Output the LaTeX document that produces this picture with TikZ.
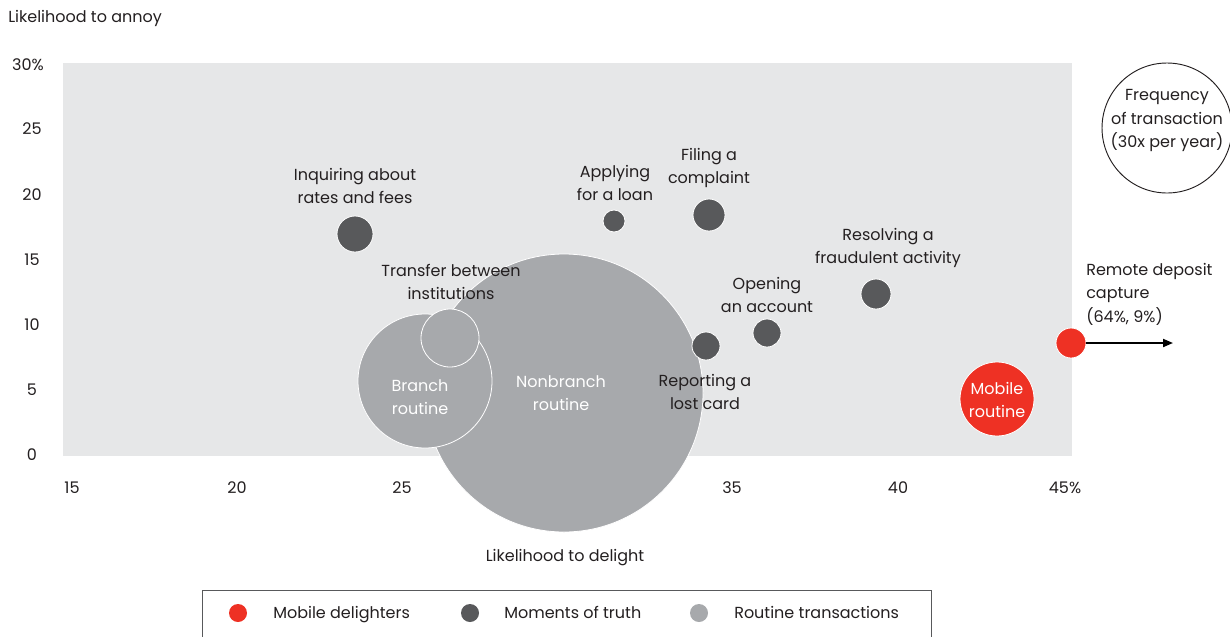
\documentclass[tikz,border=0pt]{standalone}
\usepackage{fontspec}
\setmainfont{Poppins}
\usetikzlibrary{arrows.meta}
\definecolor{bgray}{HTML}{E6E7E8}
\definecolor{dgray}{HTML}{58595B}
\definecolor{lgray}{HTML}{A7A9AC}
\definecolor{bred}{HTML}{EE3124}
\definecolor{ink}{HTML}{231F20}

\begin{document}
\begin{tikzpicture}[x=0.75pt, y=-0.75pt, font=\fontsize{12}{17.6}\selectfont, text=ink,
  bubble/.style={circle, draw=white, line width=0.6pt, inner sep=0pt},
  truth/.style={bubble, fill=dgray},
  routine/.style={bubble, fill=lgray},
  delight/.style={bubble, fill=bred},
  lbl/.style={align=center, inner sep=0pt},
  inlbl/.style={lbl, text=white},
  keydot/.style={circle, minimum size=13.5pt, inner sep=0pt},
  keytext/.style={anchor=base west, inner sep=0pt}]
\useasboundingbox (0,0) rectangle (1230,636);

% Plot background
\fill[bgray] (63,63) rectangle (1072,456);

% Axis labels
\node[anchor=west, inner sep=0pt] (ytitle) at (8,18) {Likelihood to annoy};
\node[lbl] (y30) at (28,65) {30\%};
\foreach \v/\y in {25/129, 20/195, 15/260, 10/325, 5/390, 0/455}
  \node[lbl] (y\v) at (32,\y) {\v};
\foreach \v/\x in {15/72, 20/237, 25/402, 35/732, 40/898}
  \node[lbl] (x\v) at (\x,488) {\v};
\node[lbl] (x45) at (1065,488) {45\%};
\node[lbl] (xtitle) at (565,558) {Likelihood to delight};

% Routine transactions
\node[routine, minimum size=208.5pt] (nonbranch) at (564,393) {};
\node[routine, minimum size=100.5pt] (branch) at (425,381) {};
\node[routine, minimum size=43.5pt] (transfer) at (450,338) {};
\node[inlbl] (nonbranchlbl) at (561,393) {Nonbranch\\routine};
\node[inlbl] (branchlbl) at (420,397) {Branch\\routine};
\node[lbl] (transferlbl) at (451,282) {Transfer between\\institutions};

% Moments of truth
\node[truth, minimum size=27pt] (inquire) at (355,234) {};
\node[truth, minimum size=16.5pt] (loan) at (614,221) {};
\node[truth, minimum size=24pt] (complaint) at (709,215) {};
\node[truth, minimum size=22.5pt] (fraud) at (876,294) {};
\node[truth, minimum size=21pt] (account) at (767,333) {};
\node[truth, minimum size=21pt] (lostcard) at (706,346) {};
\node[lbl] (inquirelbl) at (355,186) {Inquiring about\\rates and fees};
\node[lbl] (loanlbl) at (615,183) {Applying\\for a loan};
\node[lbl] (complaintlbl) at (709,168) {Filing a\\complaint};
\node[lbl] (fraudlbl) at (888,248) {Resolving a\\fraudulent activity};
\node[lbl] (accountlbl) at (767,295) {Opening\\an account};
\node[lbl] (lostcardlbl) at (705,392) {Reporting a\\lost card};

% Mobile delighters
\node[delight, minimum size=55.5pt] (mobile) at (997,399) {};
\node[inlbl] (mobilelbl) at (997,400) {Mobile\\routine};
\node[delight, minimum size=22.5pt] (deposit) at (1071,343) {};
\node[lbl, anchor=west, align=left] (depositlbl) at (1086,294) {Remote deposit\\capture\\(64\%, 9\%)};
\coordinate (depositend) at (1173,343);
\draw[line width=1.4pt, -{Triangle[length=7.5pt, width=6pt]}] (deposit.east) -- (depositend);

% Bubble size key
\node[circle, draw=ink, line width=0.7pt, minimum size=97.5pt] (freq) at (1167,128) {};
\node[lbl] (freqlbl) at (1167,120.5) {Frequency\\of transaction\\(30x per year)};

% Legend
\draw[dgray, line width=0.7pt] (202,650) -- (202,590) -- (931,590) -- (931,650);
\node[keydot, fill=bred] (keyred) at (238,613) {};
\node[keydot, fill=dgray] (keydark) at (470,613) {};
\node[keydot, fill=lgray] (keylight) at (699,613) {};
\node[keytext] (keyredlbl) at (273,618) {Mobile delighters};
\node[keytext] (keydarklbl) at (504,618) {Moments of truth};
\node[keytext] (keylightlbl) at (734,618) {Routine transactions};
\end{tikzpicture}
\end{document}
